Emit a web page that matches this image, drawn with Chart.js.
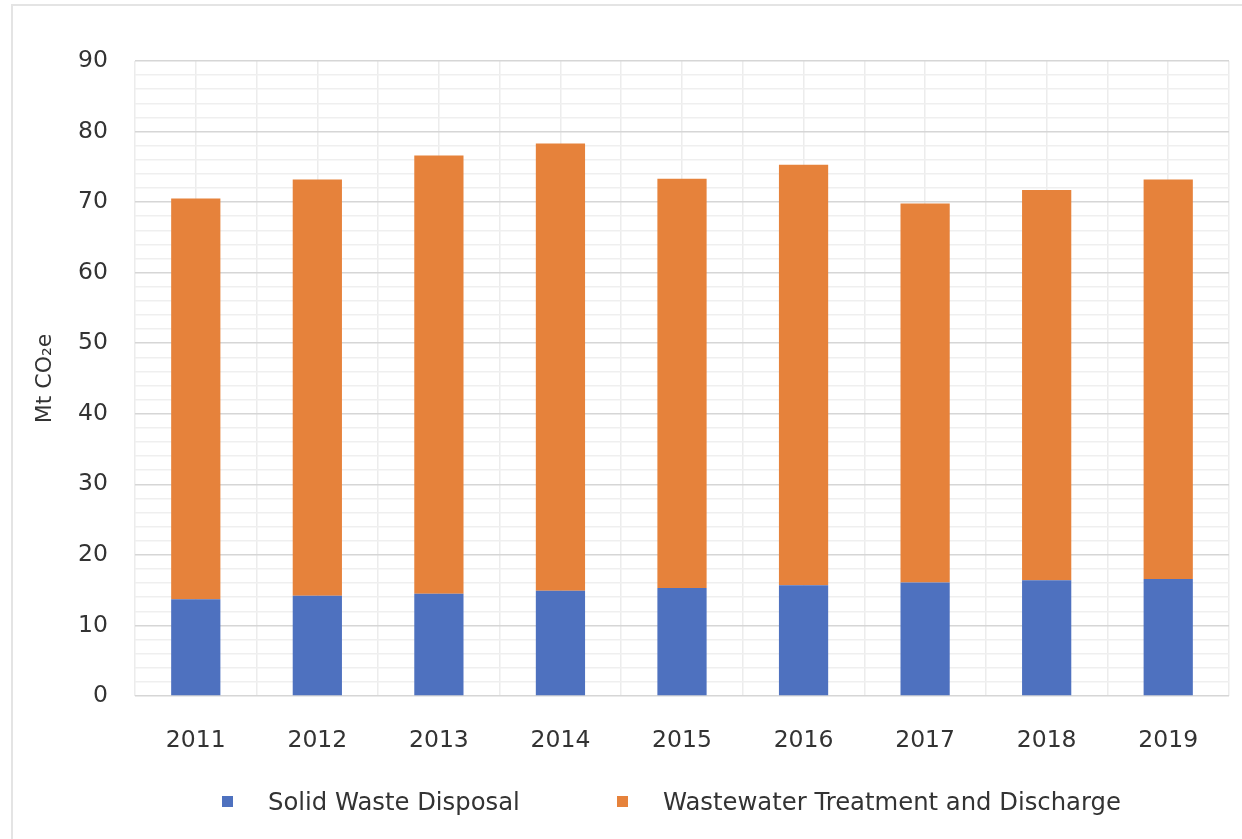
<!DOCTYPE html>
<html>
<head>
<meta charset="utf-8">
<script src="https://cdn.jsdelivr.net/npm/chart.js@4"></script>
<style>
    html, body { margin: 0; padding: 0; background: #fff; overflow: hidden; }
    #wrap { position: relative; width: 1242px; height: 839px; }
    #frame { position: absolute; left: 11px; top: 4px; width: 1300px; height: 900px; border: 2px solid #e4e4e4; box-sizing: border-box; }
    #chart { position: absolute; left: 0; top: 0; }
    .legend { position: absolute; top: 787px; font-family: 'DejaVu Sans', sans-serif; font-size: 24.3px; color: #333; display: flex; align-items: center; white-space: nowrap; }
    .legend span.box { width: 11px; height: 11px; display: inline-block; margin-right: 35px; }
</style>
</head>
<body>
<div id="wrap">
    <div id="frame"></div>
    <canvas id="chart" width="1242" height="839"></canvas>
    <div class="legend" style="left:222px"><span class="box" id="box0"></span><span id="lbl0"></span></div>
    <div class="legend" style="left:617px"><span class="box" id="box1"></span><span id="lbl1"></span></div>
</div>
<script>
const years = ['2011', '2012', '2013', '2014', '2015', '2016', '2017', '2018', '2019'];
const solidWaste = [13.7, 14.2, 14.5, 14.9, 15.3, 15.7, 16.1, 16.4, 16.6];
const wastewater = [56.8, 59.0, 62.1, 63.4, 58.0, 59.6, 53.7, 55.3, 56.6];
const seriesNames = ['Solid Waste Disposal', 'Wastewater Treatment and Discharge'];
const seriesColors = ['#4e71bf', '#e6823b'];

const FONT = "'DejaVu Sans', sans-serif";
const FSIZE = 23.5;
const TEXT = '#333';

// html legend
seriesNames.forEach((name, i) => {
    document.getElementById('box' + i).style.background = seriesColors[i];
    document.getElementById('lbl' + i).textContent = name;
});

const ctx = document.getElementById('chart').getContext('2d');
new Chart(ctx, {
    type: 'bar',
    data: {
        labels: years,
        datasets: [{
            label: seriesNames[0],
            data: solidWaste,
            backgroundColor: seriesColors[0]
        }, {
            label: seriesNames[1],
            data: wastewater,
            backgroundColor: seriesColors[1]
        }]
    },
    options: {
        responsive: false,
        animation: false,
        layout: {
            padding: { top: 61, right: 13, bottom: 83, left: 0 }
        },
        plugins: {
            legend: { display: false },
            tooltip: { enabled: false }
        },
        datasets: {
            bar: {
                categoryPercentage: 1,
                barPercentage: 0.405
            }
        },
        scales: {
            x: {
                stacked: true,
                grid: { display: false },
                border: { display: false },
                ticks: {
                    color: TEXT,
                    font: { family: FONT, size: FSIZE },
                    padding: 23,
                    maxRotation: 0
                },
                afterFit: s => { s.height = 60; }
            },
            // vertical gridlines at category centres and boundaries
            x2: {
                type: 'linear',
                position: 'bottom',
                offset: false,
                min: -0.5,
                max: years.length - 0.5,
                ticks: { display: false, stepSize: 0.5 },
                grid: { color: '#ececec', lineWidth: 1.5, drawTicks: false, offset: false },
                border: { display: false },
                afterFit: s => { s.height = 0; }
            },
            y: {
                stacked: true,
                min: 0,
                max: 90,
                border: { display: false },
                grid: {
                    drawTicks: false,
                    lineWidth: 1.5,
                    color: c => (c.tick && c.tick.value % 10 === 0) ? '#d6d6d6' : '#efefef'
                },
                ticks: {
                    stepSize: 2,
                    autoSkip: false,
                    padding: 27,
                    color: TEXT,
                    font: { family: FONT, size: FSIZE },
                    callback: v => v % 10 === 0 ? v : ''
                },
                title: {
                    display: true,
                    text: 'Mt CO₂e',
                    color: TEXT,
                    font: { family: FONT, size: 22 },
                    padding: { top: 32, bottom: 0 }
                },
                afterFit: s => { s.width = 135; }
            }
        }
    }
});
</script>
</body>
</html>
